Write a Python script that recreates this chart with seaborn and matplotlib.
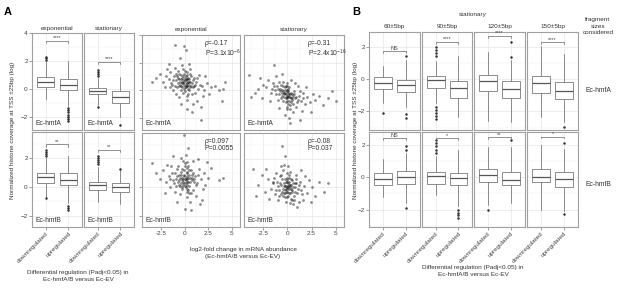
import numpy as np
import pandas as pd
import seaborn as sns
import matplotlib.pyplot as plt
from matplotlib.ticker import MultipleLocator

sns.set_theme(style="whitegrid")
plt.rcParams['font.family'] = ['Liberation Sans', 'DejaVu Sans']
plt.rcParams['mathtext.fontset'] = 'custom'
plt.rcParams['mathtext.rm'] = 'Liberation Sans'

W, H = 617, 288
FS = 4.6
EDGE = '#a0a0a0'
GRID = '#e6e6e6'

groups = ["downregulated", "upregulated"]

# ---- panel A boxplots: (whislo, q1, median, q3, whishi) for down / up
boxA_hmfA_exp = [(-0.7, 0.19, 0.53, 0.84, 1.93), (-1.2, -0.05, 0.30, 0.72, 2.0)]
flrA_hmfA_exp = [[2.05, 2.2, 2.3], [-1.35, -1.5, -1.65, -1.8, -1.95, -2.1, -2.25]]
boxA_hmfA_sta = [(-1.1, -0.35, -0.1, 0.07, 0.77), (-2.0, -0.98, -0.56, -0.16, 0.84)]
flrA_hmfA_sta = [[0.95, 1.1, 1.2, 1.35, -1.25], [-2.55]]
boxA_hmfB_exp = [(-0.7, 0.3, 0.7, 1.0, 2.0), (-1.15, 0.16, 0.51, 0.98, 2.2)]
flrA_hmfB_exp = [[2.15, 2.3, 2.45, 2.6, -0.8], [-1.3, -1.45, -1.6]]
boxA_hmfB_sta = [(-1.05, -0.19, 0.12, 0.35, 1.4), (-1.17, -0.35, 0.0, 0.28, 1.16)]
flrA_hmfB_sta = [[1.6, 1.75, 1.9, 2.05, 2.2], [1.25]]
sigA_text = ["****", "****", "**", "**"]
sigA_y = [3.44, 1.93, 2.98, 2.6]

# ---- panel A scatter: log2FC (x) vs coverage (y)
sc_hmfA_exp = [(-0.1,0.6),(0.2,0.5),(-0.4,0.8),(0.5,0.4),(-0.7,0.9),(0.1,0.7),(0.3,0.3),(-0.2,1.0),(0.6,0.6),(-0.5,0.4),
    (0.0,0.2),(0.4,0.9),(-0.3,0.5),(0.8,0.5),(-0.9,0.7),(0.2,1.1),(-0.1,0.1),(0.5,0.0),(-0.6,1.2),(0.1,0.4),
    (0.9,0.2),(-1.1,1.0),(0.3,0.8),(-0.4,0.3),(1.2,0.6),(-1.3,0.4),(0.7,1.0),(-0.8,0.2),(1.4,0.1),(-1.5,1.3),
    (0.0,1.4),(1.0,0.9),(-0.2,-0.2),(1.6,0.4),(-1.7,0.8),(0.4,-0.3),(-1.0,1.6),(1.8,0.3),(-2.0,1.0),(0.6,1.5),
    (-0.3,1.8),(2.1,0.0),(-2.3,0.6),(1.1,-0.2),(-1.2,0.0),(2.4,0.5),(-2.6,1.2),(0.2,-0.7),(1.5,1.1),(-0.6,-0.5),
    (2.8,0.2),(-3.0,0.9),(1.9,-0.4),(-1.6,1.9),(3.2,0.3),(-3.4,0.6),(0.9,-1.0),(3.6,0.0),(2.2,1.0),(-2.1,0.2),
    (4.1,0.1),(4.3,0.6),(-0.5,2.3),(0.1,2.9),(0.8,-1.6),(-0.4,-1.0),(1.3,-0.8),(-0.9,-0.3),(0.5,1.9),(-0.1,3.2),
    (2.6,-0.3),(-1.9,1.5),(1.7,-1.2),(0.3,-1.4),(-0.7,1.4),(0.0,0.9),(0.6,0.2),(-1.4,0.5),(1.0,0.3),(-0.2,0.7),
    (3.9,-0.8),(1.7,-2.2),(-1.05,3.3),(-0.3,0.6),(0.2,0.8),(-0.6,0.3),(0.4,0.6),(-0.1,0.4),(0.1,1.0),(-0.4,1.1),
    (-0.2,0.5),(0.0,0.7),(0.3,0.5),(-0.5,0.6),(0.1,0.2),(-0.3,0.9),(0.5,0.8),(-0.7,0.5),(0.2,0.3),(-0.1,1.2),
    (0.7,0.3),(-0.8,1.0),(0.4,0.1),(-0.4,0.0),(0.9,0.7),(-1.0,0.3),(0.0,-0.1),(-0.6,0.8),(0.6,1.2),(-0.2,1.5),
    (1.1,0.4),(-1.2,0.7),(0.3,1.3),(-0.9,1.2),(1.3,0.9),(0.8,-0.3),(-1.5,0.2),(0.2,-0.4),(-0.3,0.2),(0.5,0.6)]
sc_hmfA_sta = [(-0.2,-0.3),(0.1,-0.4),(-0.5,-0.1),(0.3,-0.5),(-0.3,0.0),(0.0,-0.6),(-0.6,-0.2),(0.4,-0.2),(-0.1,-0.1),(0.2,-0.8),
    (-0.8,0.1),(0.6,-0.4),(-0.4,-0.5),(0.5,-0.7),(-0.9,-0.3),(0.1,0.1),(-0.2,-0.9),(0.8,-0.6),(-1.1,0.3),(0.7,-0.1),
    (-0.7,0.4),(1.0,-0.9),(-1.3,0.0),(0.3,-1.1),(-0.5,0.6),(1.2,-0.4),(-1.5,0.5),(0.9,-1.2),(-1.7,-0.2),(1.4,-0.8),
    (-0.1,0.5),(0.0,-1.4),(-2.0,0.7),(1.6,-0.2),(-2.2,0.2),(1.8,-1.0),(-1.0,-0.7),(2.0,-0.5),(-2.5,0.4),(0.6,-1.6),
    (-0.3,-1.8),(2.3,-0.9),(-2.8,0.9),(2.6,-0.3),(-1.2,1.0),(-3.0,0.1),(2.9,-0.7),(-3.4,-0.2),(3.3,-0.4),(0.2,-2.0),
    (-0.6,1.2),(3.7,-1.1),(-3.8,-0.5),(4.2,-0.6),(-4.0,1.1),(5.0,-0.8),(4.6,-0.1),(1.1,0.3),(-1.8,-0.8),(0.4,0.7),
    (-0.9,-1.3),(1.5,-1.5),(0.8,0.5),(2.4,-1.6),(-0.2,-0.6),(0.5,-0.3),(-0.4,-0.3),(0.1,-0.2),(-1.4,1.8),(0.3,-2.4),
    (1.9,0.2),(-2.6,-0.6),(1.3,-2.2),(0.0,0.3),(-0.3,-0.2),(0.2,-0.3),(-0.6,-0.4),(0.4,-0.6),(-0.1,-0.5),(0.1,-0.1),
    (-0.1,-0.4),(0.2,-0.5),(-0.4,-0.2),(0.3,-0.3),(-0.6,0.0),(0.0,-0.8),(-0.3,0.2),(0.5,-0.6),(-0.8,-0.1),(0.1,-1.0),
    (-0.5,0.3),(0.7,-0.3),(-1.0,0.1),(0.4,-0.9),(-0.2,0.3),(0.9,-0.5),(-1.2,-0.3),(0.6,-1.0),(-0.7,-0.6),(1.1,-0.7),
    (-1.4,0.3),(0.2,0.2),(-0.5,-0.8),(1.3,-0.1),(-0.9,0.6),(0.0,-1.2),(1.6,-0.6),(-1.6,0.1),(0.3,-1.4),(-0.1,0.0)]
sc_hmfB_exp = [(0.0,0.6),(0.2,0.8),(-0.3,0.5),(0.4,0.4),(-0.1,0.9),(0.1,0.3),(-0.5,0.7),(0.3,1.0),(-0.2,0.2),(0.6,0.7),
    (-0.4,1.1),(0.1,0.0),(0.5,1.2),(-0.7,0.4),(0.8,0.5),(-0.6,0.9),(0.2,1.4),(-0.3,-0.1),(0.9,1.0),(-0.9,0.6),
    (0.4,-0.2),(-1.1,0.3),(1.1,0.8),(-0.8,1.3),(0.0,1.7),(1.3,0.3),(-1.3,1.0),(0.7,-0.4),(-0.2,1.9),(1.5,1.3),
    (-1.5,0.0),(0.3,-0.7),(1.7,0.6),(-1.7,0.8),(-0.5,-0.5),(2.0,1.0),(-2.0,0.4),(0.9,1.9),(-1.0,-0.3),(2.2,0.2),
    (-2.3,1.2),(0.1,2.3),(1.2,-0.6),(2.5,0.7),(-2.6,0.6),(-0.4,2.1),(0.6,-1.0),(2.8,1.4),(-3.0,1.0),(3.6,0.5),
    (-3.4,1.7),(1.8,-0.9),(-1.2,2.2),(0.4,2.8),(-0.1,3.7),(0.0,-1.5),(0.7,-1.6),(1.6,-1.2),(-0.8,-1.0),(2.4,1.8),
    (-1.9,1.6),(4.1,0.7),(1.0,0.4),(-0.6,0.2),(0.5,0.1),(-0.1,1.2),(0.2,-0.3),(1.4,2.0),(-2.1,-0.4),(0.8,0.9),
    (-0.3,0.7),(0.3,0.6),(1.9,-0.1),(-1.4,1.5),(0.1,0.5),(-0.2,0.4),(0.2,0.2),(-0.1,0.8),(0.4,0.7),(-0.4,0.3),
    (0.1,0.7),(-0.2,0.6),(0.3,0.4),(-0.4,0.9),(0.5,0.9),(-0.1,0.3),(0.2,1.1),(-0.6,0.5),(0.6,0.4),(-0.3,1.3),
    (0.8,0.7),(0.0,0.1),(-0.8,0.8),(0.4,1.5),(-0.5,0.1),(1.0,0.6),(-1.0,1.0),(0.2,-0.1),(0.7,1.2),(-0.7,1.5),
    (1.2,0.2),(-1.2,0.5),(0.0,1.5),(0.5,-0.4),(-0.3,0.0),(1.4,0.9),(-1.5,0.6),(0.3,1.8),(-0.9,0.1),(0.9,-0.2)]
sc_hmfB_sta = [(0.0,0.0),(0.2,-0.1),(-0.3,0.1),(0.4,0.2),(-0.1,-0.3),(0.1,0.3),(-0.5,-0.1),(0.3,-0.4),(-0.2,0.4),(0.6,0.0),
    (-0.4,-0.4),(0.1,-0.6),(0.5,0.5),(-0.7,0.2),(0.8,-0.3),(-0.6,0.6),(0.2,0.7),(-0.3,-0.7),(0.9,0.3),(-0.9,-0.2),
    (0.4,-0.8),(-1.1,0.4),(1.1,-0.1),(-0.8,0.8),(0.0,1.0),(1.3,0.4),(-1.3,-0.5),(0.7,-0.9),(-0.2,-1.0),(1.5,-0.5),
    (-1.5,0.3),(0.3,1.1),(1.7,0.1),(-1.7,-0.1),(-0.5,1.2),(2.0,-0.4),(-2.0,0.6),(0.9,0.9),(-1.0,-0.9),(2.2,0.5),
    (-2.3,-0.3),(0.1,1.5),(1.2,-1.0),(2.5,0.0),(-2.6,0.9),(-0.4,1.6),(0.6,-1.2),(2.8,-0.6),(-3.0,0.2),(3.3,0.4),
    (-3.3,-0.6),(1.8,0.8),(-1.2,1.0),(-0.3,2.2),(-0.6,2.9),(-0.7,1.55),(4.2,0.3),(3.8,-0.3),(-3.6,1.3),(2.4,-1.0),
    (-1.9,-0.8),(1.0,-1.4),(-0.2,0.1),(0.5,-0.2),(-0.1,0.5),(0.3,0.0),(1.4,1.2),(-2.2,1.3),(0.8,0.3),(-0.7,-0.5),
    (1.6,-0.9),(-1.4,0.7),(0.1,0.1),(-0.1,-0.1),(0.2,0.2),(-0.3,-0.2),(0.4,-0.1),(-0.4,0.3),(0.0,-0.3),(0.2,0.4),
    (0.1,0.0),(-0.2,-0.1),(0.3,0.2),(-0.4,0.1),(0.5,-0.3),(-0.1,0.4),(0.2,-0.4),(-0.6,-0.3),(0.6,0.3),(-0.3,0.6),
    (0.8,0.0),(0.0,-0.7),(-0.8,0.3),(0.4,0.6),(-0.5,-0.6),(1.0,-0.4),(-1.0,0.1),(0.2,0.9),(0.7,-0.6),(-0.7,0.9),
    (1.2,0.2),(-1.2,-0.2),(0.0,0.7),(0.5,-0.9),(-0.3,-0.4),(1.4,-0.2),(-1.5,0.4),(0.3,-1.1),(-0.9,-0.6),(0.9,0.6)]
rho_text = ["ρ=-0.17\nP=3.1x10$^{-6}$", "ρ=-0.31\nP=2.4x10$^{-16}$",
            "ρ=0.097\nP=0.0055", "ρ=-0.08\nP=0.037"]

# ---- panel B boxplots (stationary, Ec-hmfA row then Ec-hmfB row)
frag_sizes = ["60±5bp", "90±5bp", "120±5bp", "150±5bp"]
boxB_hmfA = [[(-1.5, -0.63, -0.25, 0.1, 0.8), (-1.73, -0.8, -0.36, -0.04, 1.16)],
             [(-1.5, -0.53, -0.08, 0.21, 1.1), (-2.35, -1.16, -0.57, -0.1, 1.43)],
             [(-2.57, -0.72, -0.15, 0.27, 1.64), (-2.67, -1.16, -0.63, -0.15, 1.2)],
             [(-2.35, -0.88, -0.25, 0.21, 2.06), (-2.67, -1.26, -0.72, -0.21, 1.55)]]
flrB_hmfA = [[[-2.08], [1.39, -2.15, -2.4]],
             [[1.4, 1.6, 1.8, 2.0, -1.73, -1.9, -2.1, -2.3, -2.5], []],
             [[], [1.33, 2.27]],
             [[], [-2.95]]]
sigB_hmfA = ["NS", "****", "****", "****"]
sigB_hmfA_y = [1.7, 2.3, 2.65, 2.27]
boxB_hmfB = [[(-1.2, -0.46, -0.1, 0.26, 1.1), (-1.6, -0.4, 0.0, 0.36, 1.5)],
             [(-1.1, -0.4, 0.04, 0.34, 1.3), (-1.8, -0.46, -0.06, 0.26, 1.7)],
             [(-1.72, -0.29, 0.16, 0.53, 1.86), (-1.6, -0.49, -0.18, 0.33, 1.86)],
             [(-2.03, -0.29, 0.02, 0.53, 1.97), (-2.1, -0.6, -0.14, 0.29, 1.75)]]
flrB_hmfB = [[[], [1.7, 1.9, -1.9]],
             [[1.5, 1.7, 1.9, 2.1, 2.3], [-2.0, -2.2, -2.35, -2.5]],
             [[-2.03], [2.3]],
             [[], [2.1, -2.3]]]
sigB_hmfB = ["NS", "*", "**", "*"]
sigB_hmfB_y = [2.4, 2.4, 2.46, 2.5]

fig = plt.figure(figsize=(W / 100, H / 100), dpi=100)


def ax_at(x0, y0, x1, y1):
    ax = fig.add_axes([x0 / W, 1 - y1 / H, (x1 - x0) / W, (y1 - y0) / H])
    ax.set_facecolor('white')
    for s in ax.spines.values():
        s.set_edgecolor(EDGE)
        s.set_linewidth(0.8)
    ax.grid(True, which='major', color=GRID, lw=0.5)
    ax.grid(True, which='minor', color='#f2f2f2', lw=0.35)
    ax.tick_params(which='major', length=2, width=0.5, color='#777', labelsize=FS, pad=1,
                   labelcolor='#444', left=True, bottom=True)
    ax.tick_params(which='minor', length=0)
    ax.set_axisbelow(True)
    return ax


def box_panel(ax, box, flr, sig, sig_y, ylim, width, ticks_y, ticks_x, tick_d):
    stats = [dict(whislo=b[0], q1=b[1], med=b[2], q3=b[3], whishi=b[4], fliers=f)
             for b, f in zip(box, flr)]
    ax.bxp(stats, positions=[0, 1], widths=width, patch_artist=True, showcaps=False,
           boxprops=dict(facecolor='white', edgecolor='#7a7a7a', lw=0.6),
           medianprops=dict(color='#555555', lw=0.9),
           whiskerprops=dict(color='#7a7a7a', lw=0.6),
           flierprops=dict(marker='o', markersize=0.8, markerfacecolor='#333',
                           markeredgecolor='#333', lw=0))
    ax.plot([0, 0, 1, 1], [sig_y - tick_d, sig_y, sig_y, sig_y - tick_d], color='#666', lw=0.5)
    ax.text(0.5, sig_y + tick_d * 0.3, sig, ha='center', va='bottom', fontsize=FS - 0.6, color='#444')
    ax.set_xlim(-0.6, 1.6)
    ax.set_ylim(*ylim)
    ax.yaxis.set_major_locator(MultipleLocator(2))
    ax.yaxis.set_minor_locator(MultipleLocator(1))
    ax.set_xticks([0, 1])
    if ticks_x:
        ax.set_xticklabels(groups, rotation=45, ha='right', rotation_mode='anchor')
    else:
        ax.set_xticklabels([])
        ax.tick_params(axis='x', length=0)
    if not ticks_y:
        ax.set_yticklabels([])
        ax.tick_params(axis='y', length=0)
    ax.set_xlabel('')
    ax.set_ylabel('')


# ---------------- A: boxplots
ylimA = [(-2.9, 4.0), (-2.8, 3.85)]
colsA = [(32, 82), (84, 134)]
rowsA = [(33, 130), (132, 227)]
boxesA = [[(boxA_hmfA_exp, flrA_hmfA_exp), (boxA_hmfA_sta, flrA_hmfA_sta)],
          [(boxA_hmfB_exp, flrA_hmfB_exp), (boxA_hmfB_sta, flrA_hmfB_sta)]]
row_names = ["Ec-hmfA", "Ec-hmfB"]
k = 0
for r in range(2):
    for c in range(2):
        ax = ax_at(colsA[c][0], rowsA[r][0], colsA[c][1], rowsA[r][1])
        b, f = boxesA[r][c]
        box_panel(ax, b, f, sigA_text[k], sigA_y[k], ylimA[r], 0.75, c == 0, r == 1, 0.15)
        ax.text(0.08, 0.03, row_names[r], transform=ax.transAxes, fontsize=FS + 0.3,
                color='#333', ha='left', va='bottom')
        k += 1

# ---------------- A: scatter panels
colsS = [(142, 240), (244, 344)]
rowsS = [(35, 130), (133, 227)]
scatters = [[sc_hmfA_exp, sc_hmfA_sta], [sc_hmfB_exp, sc_hmfB_sta]]
k = 0
for r in range(2):
    for c in range(2):
        ax = ax_at(colsS[c][0], rowsS[r][0], colsS[c][1], rowsS[r][1])
        pts = pd.DataFrame(scatters[r][c], columns=['lfc', 'cov'])
        sns.scatterplot(data=pts, x='lfc', y='cov', ax=ax, s=4, color='#1a1a1a',
                        alpha=0.5, linewidth=0, legend=False)
        ax.set_xlim(-4.5, 5.85)
        ax.set_ylim(*ylimA[r])
        ax.xaxis.set_major_locator(MultipleLocator(2.5))
        ax.xaxis.set_minor_locator(MultipleLocator(1.25))
        ax.yaxis.set_major_locator(MultipleLocator(2))
        ax.yaxis.set_minor_locator(MultipleLocator(1))
        ax.set_yticklabels([])
        ax.tick_params(axis='y', length=2 if c == 0 else 0)
        if r == 1:
            ax.set_xticks([-2.5, 0, 2.5, 5])
            ax.set_xticklabels(["-2.5", "0", "2.5", "5"])
        else:
            ax.set_xticklabels([])
            ax.tick_params(axis='x', length=0)
        ax.set_xlabel('')
        ax.set_ylabel('')
        ax.text(0.64, 0.95, rho_text[k], transform=ax.transAxes, fontsize=FS + 0.3,
                color='#333', ha='left', va='top', linespacing=1.1)
        ax.text(0.04, 0.03, row_names[r], transform=ax.transAxes, fontsize=FS + 0.3,
                color='#333', ha='left', va='bottom')
        k += 1

# ---------------- B: boxplots
colsB = [(369, 420), (422, 472), (474, 525), (527, 578)]
rowsB = [(32, 130), (132, 227)]
ylimB = (-3.15, 2.9)
for c in range(4):
    ax = ax_at(colsB[c][0], rowsB[0][0], colsB[c][1], rowsB[0][1])
    box_panel(ax, boxB_hmfA[c], flrB_hmfA[c], sigB_hmfA[c], sigB_hmfA_y[c], ylimB, 0.78,
              c == 0, False, 0.12)
    ax = ax_at(colsB[c][0], rowsB[1][0], colsB[c][1], rowsB[1][1])
    box_panel(ax, boxB_hmfB[c], flrB_hmfB[c], sigB_hmfB[c], sigB_hmfB_y[c], (-3.07, 2.78), 0.78,
              c == 0, True, 0.12)
    fig.text((colsB[c][0] + colsB[c][1]) / 2 / W, 1 - 28 / H, frag_sizes[c], ha='center',
             va='baseline', fontsize=FS, color='#333')

# ---------------- labels
def ftext(x, y, s, **kw):
    kw.setdefault('fontsize', FS)
    kw.setdefault('color', '#333')
    fig.text(x / W, 1 - y / H, s, **kw)


ftext(8, 15, "A", fontsize=8, fontweight='bold', color='black', ha='center', va='baseline')
ftext(356, 15, "B", fontsize=8, fontweight='bold', color='black', ha='center', va='baseline')
for (x0, x1), lab in zip(colsA, ["exponential", "stationary"]):
    ftext((x0 + x1) / 2, 30, lab, ha='center', va='baseline')
for (x0, x1), lab in zip(colsS, ["exponential", "stationary"]):
    ftext((x0 + x1) / 2, 31, lab, ha='center', va='baseline')
ftext(473, 16, "stationary", ha='center', va='baseline')
ftext(598, 26, "fragment\nsizes\nconsidered", ha='center', va='center', linespacing=1.25)
ftext(598, 91, "Ec-hmfA", ha='center', va='center', fontsize=FS + 0.3)
ftext(598, 185, "Ec-hmfB", ha='center', va='center', fontsize=FS + 0.3)
ylab = "Normalized histone coverage at TSS ±25bp (log)"
ftext(13, 130, ylab, rotation=90, ha='center', va='center')
ftext(355, 130, ylab, rotation=90, ha='center', va='center')
xlab = "Differential regulation (Padj<0.05) in\nEc-hmfA/B versus Ec-EV"
ftext(78, 276, xlab, ha='center', va='center', linespacing=1.3)
ftext(473, 271, xlab, ha='center', va='center', linespacing=1.3)
ftext(243, 253, "log2-fold change in mRNA abundance\n(Ec-hmfA/B versus Ec-EV)",
      ha='center', va='center', linespacing=1.3)

fig.savefig("out.png", dpi=100)
